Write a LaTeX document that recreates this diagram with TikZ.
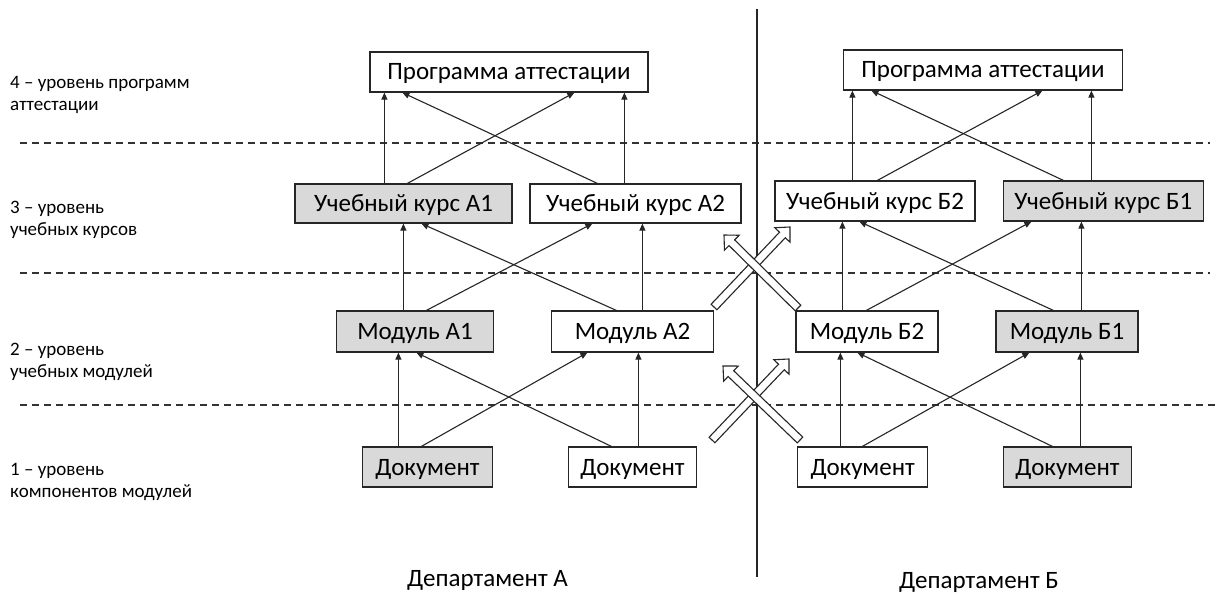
\documentclass[tikz,border=0pt]{standalone}
\usepackage{fontspec}
\setmainfont{Carlito}
\usetikzlibrary{calc,arrows.meta}
\tikzset{
  box/.style={draw=black!85, line width=1.2pt, fill=white, inner sep=0pt, text height=16pt, text depth=0pt, font=\fontsize{25}{28}\selectfont},
  gbox/.style={box, fill=black!15},
  arr/.style={line width=1.1pt, draw=black!85, -{Triangle[length=7pt,width=6pt]}},
  level/.style={font=\fontsize{19}{21.5}\selectfont, align=left, anchor=west, inner sep=0pt},
  dept/.style={font=\fontsize{25}{28}\selectfont, inner sep=0pt},
  sep/.style={line width=1.1pt, draw=black!80, dash pattern=on 7pt off 5pt},
  hollow/.style={draw=black!85, line width=1.1pt, fill=white, line join=miter},
}
\newcommand\hollowarr[3]{%
  \coordinate (#1t) at #2; \coordinate (#1h) at #3;
  \coordinate (#1b) at ($(#1h)!11pt!(#1t)$);
  \draw[hollow] ($(#1t)!4pt!90:(#1h)$) -- ($(#1b)!4pt!90:(#1h)$) -- ($(#1b)!10.5pt!90:(#1h)$) -- (#1h) -- ($(#1b)!10.5pt!-90:(#1h)$) -- ($(#1b)!4pt!-90:(#1h)$) -- ($(#1t)!4pt!-90:(#1h)$) -- cycle;}
\begin{document}
\begin{tikzpicture}[x=1pt,y=-1pt]
\useasboundingbox[fill=white] (0,0) rectangle (1221,599);

% separators
\draw[sep] (20,143) -- (1210,143);
\draw[sep] (20,273) -- (1210,273);
\draw[sep] (20,405) -- (1215,405);
\draw[line width=1.3pt, draw=black!85] (757,9) -- (757,577);

% level labels
\node[level] (l4) at (10,95) {4 -- уровень программ\\аттестации};
\node[level] (l3) at (10,220) {3 -- уровень\\учебных курсов};
\node[level] (l2) at (10,362) {2 -- уровень\\учебных модулей};
\node[level] (l1) at (10,482) {1 -- уровень\\компонентов модулей};

% department A
\node[box, minimum width=278pt, minimum height=40pt] (pA) at (509,72) {Программа аттестации};
\node[gbox, minimum width=217pt, minimum height=39pt] (cA1) at (403.5,203.5) {Учебный курс А1};
\node[box, minimum width=211pt, minimum height=39pt] (cA2) at (635.5,203.5) {Учебный курс А2};
\node[gbox, minimum width=157pt, minimum height=41pt] (mA1) at (415,331.5) {Модуль А1};
\node[box, minimum width=162pt, minimum height=41pt] (mA2) at (632.5,331.5) {Модуль А2};
\node[gbox, minimum width=130pt, minimum height=40pt] (dA1) at (427.5,467) {Документ};
\node[box, minimum width=128pt, minimum height=40pt] (dA2) at (632.5,467) {Документ};

% department B
\node[box, minimum width=279pt, minimum height=40pt] (pB) at (983,70) {Программа аттестации};
\node[box, minimum width=200pt, minimum height=40pt] (cB2) at (875,201) {Учебный курс Б2};
\node[gbox, minimum width=200pt, minimum height=40pt] (cB1) at (1103.3,201) {Учебный курс Б1};
\node[box, minimum width=142pt, minimum height=41pt] (mB2) at (867,331.5) {Модуль Б2};
\node[gbox, minimum width=142pt, minimum height=41pt] (mB1) at (1067,331.5) {Модуль Б1};
\node[box, minimum width=130pt, minimum height=40pt] (dB2) at (862.7,467) {Документ};
\node[gbox, minimum width=128pt, minimum height=40pt] (dB1) at (1067.5,467) {Документ};

\node[dept] (depA) at (487.5,580) {Департамент А};
\node[dept] (depB) at (979,582) {Департамент Б};

% arrows A
\draw[arr] ([xshift=90pt]cA1.north west) -- ([xshift=15pt]pA.south west);
\draw[arr] ([xshift=113pt]cA1.north west) -- ([xshift=205pt]pA.south west);
\draw[arr] ([xshift=68pt]cA2.north west) -- ([xshift=33pt]pA.south west);
\draw[arr] ([xshift=95pt]cA2.north west) -- ([xshift=255pt]pA.south west);
\draw[arr] ([xshift=67.5pt]mA1.north west) -- ([xshift=109pt]cA1.south west);
\draw[arr] ([xshift=90.5pt]mA1.north west) -- ([xshift=63pt]cA2.south west);
\draw[arr] ([xshift=65.5pt]mA2.north west) -- ([xshift=127pt]cA1.south west);
\draw[arr] ([xshift=91.5pt]mA2.north west) -- ([xshift=113pt]cA2.south west);
\draw[arr] ([xshift=36.5pt]dA1.north west) -- ([xshift=62.5pt]mA1.south west);
\draw[arr] ([xshift=59.5pt]dA1.north west) -- ([xshift=36.5pt]mA2.south west);
\draw[arr] ([xshift=43.5pt]dA2.north west) -- ([xshift=80.5pt]mA1.south west);
\draw[arr] ([xshift=70.5pt]dA2.north west) -- ([xshift=87.5pt]mA2.south west);

% arrows B
\draw[arr] ([xshift=78pt]cB2.north west) -- ([xshift=9.5pt]pB.south west);
\draw[arr] ([xshift=103pt]cB2.north west) -- ([xshift=199.5pt]pB.south west);
\draw[arr] ([xshift=60.7pt]cB1.north west) -- ([xshift=28.5pt]pB.south west);
\draw[arr] ([xshift=88.7pt]cB1.north west) -- ([xshift=248.5pt]pB.south west);
\draw[arr] ([xshift=47pt]mB2.north west) -- ([xshift=68pt]cB2.south west);
\draw[arr] ([xshift=71pt]mB2.north west) -- ([xshift=28.7pt]cB1.south west);
\draw[arr] ([xshift=58pt]mB1.north west) -- ([xshift=85pt]cB2.south west);
\draw[arr] ([xshift=86pt]mB1.north west) -- ([xshift=78.7pt]cB1.south west);
\draw[arr] ([xshift=43.3pt]dB2.north west) -- ([xshift=45pt]mB2.south west);
\draw[arr] ([xshift=65.3pt]dB2.north west) -- ([xshift=34pt]mB1.south west);
\draw[arr] ([xshift=49.5pt]dB1.north west) -- ([xshift=62pt]mB2.south west);
\draw[arr] ([xshift=77.5pt]dB1.north west) -- ([xshift=85pt]mB1.south west);

% hollow cross arrows
\hollowarr{ha}{(714,307)}{(790,227)}
\hollowarr{hb}{(798,308)}{(724,235)}
\hollowarr{hc}{(712,440)}{(789,359)}
\hollowarr{hd}{(800,440)}{(723,366)}
\end{tikzpicture}
\end{document}
